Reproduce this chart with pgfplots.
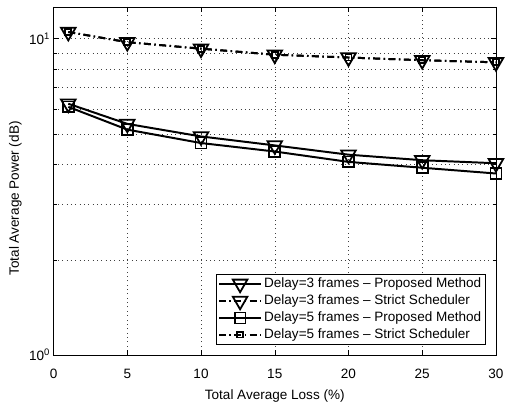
\documentclass[border=0pt]{standalone}
\usepackage{fontspec}
\setmainfont{Liberation Sans}
\usepackage{pgfplots}
\pgfplotsset{compat=1.18}
\begin{document}
\fontsize{13.7}{16}\selectfont
\begin{tikzpicture}
\begin{semilogyaxis}[
  scale only axis, width=446bp, height=351bp,
  xmin=0, xmax=30, ymin=1, ymax=12.6,
  xtick={0,5,...,30},
  ytick={1,10}, yticklabels={10\textsuperscript{0},10\textsuperscript{1}},
  minor ytick={2,3,4,5,6,7,8,9},
  grid=both,
  major grid style={dash pattern=on 0.8pt off 3.6pt, black!75, line width=0.5pt},
  minor grid style={dash pattern=on 0.8pt off 3.6pt, black!75, line width=0.5pt},
  tick align=inside,
  major tick length=5pt, minor tick length=3pt,
  every tick/.style={black, line width=0.5pt},
  axis line style={line width=0.7pt},
  /pgf/number format/assume math mode=true,
  tick label style={font=\fontsize{13.7}{16}\selectfont},
  xticklabel style={yshift=-9pt},
  yticklabel style={xshift=1pt},
  label style={font=\fontsize{13.7}{16}\selectfont},
  xlabel={Total Average Loss (\%)}, ylabel={Total Average Power (dB)},
  xlabel style={yshift=-2pt},
  ylabel style={at={(ticklabel cs:0.45)}, yshift=-2pt},
  legend style={at={(rel axis cs:0.9765,0.031)}, anchor=south east, draw=black, line width=0.7pt,
     font=\fontsize{13.7}{16}\selectfont, row sep=0.8pt, inner sep=2pt, inner ysep=1.5pt},
  legend cell align=left,
  legend image code/.code={\draw[mark repeat=2,mark phase=2] plot coordinates {(0cm,0cm) (0.75cm,0cm) (1.5cm,0cm)};},
  every axis plot/.append style={black, line width=2pt},
  clip=false,
]
\addplot[mark=triangle, mark size=8.5pt, mark options={solid, rotate=180, line width=1.8pt}] coordinates {(1,6.23) (5,5.38) (10,4.91) (15,4.60) (20,4.30) (25,4.13) (30,4.04)};
\addlegendentry{Delay=3 frames -- Proposed Method}
\addplot[mark=triangle, mark size=8.5pt, mark options={solid, rotate=180, line width=1.8pt}, dash pattern=on 7pt off 3.5pt on 1.5pt off 3.5pt] coordinates {(1,10.5) (5,9.75) (10,9.3) (15,8.9) (20,8.72) (25,8.55) (30,8.42)};
\addlegendentry{Delay=3 frames -- Strict Scheduler}
\addplot[mark=square, mark size=5.5pt, mark options={solid, line width=1.8pt}] coordinates {(1,6.09) (5,5.16) (10,4.68) (15,4.40) (20,4.08) (25,3.91) (30,3.75)};
\addlegendentry{Delay=5 frames -- Proposed Method}
\addplot[mark=square, mark size=3pt, mark options={solid, line width=1.8pt}, dash pattern=on 7pt off 3.5pt on 1.5pt off 3.5pt] coordinates {(1,10.5) (5,9.75) (10,9.3) (15,8.9) (20,8.72) (25,8.55) (30,8.42)};
\addlegendentry{Delay=5 frames -- Strict Scheduler}
\end{semilogyaxis}
\useasboundingbox (current axis.south west) ++(-54bp,-43bp) rectangle ([xshift=8bp,yshift=7bp]current axis.north east);
\end{tikzpicture}
\end{document}
